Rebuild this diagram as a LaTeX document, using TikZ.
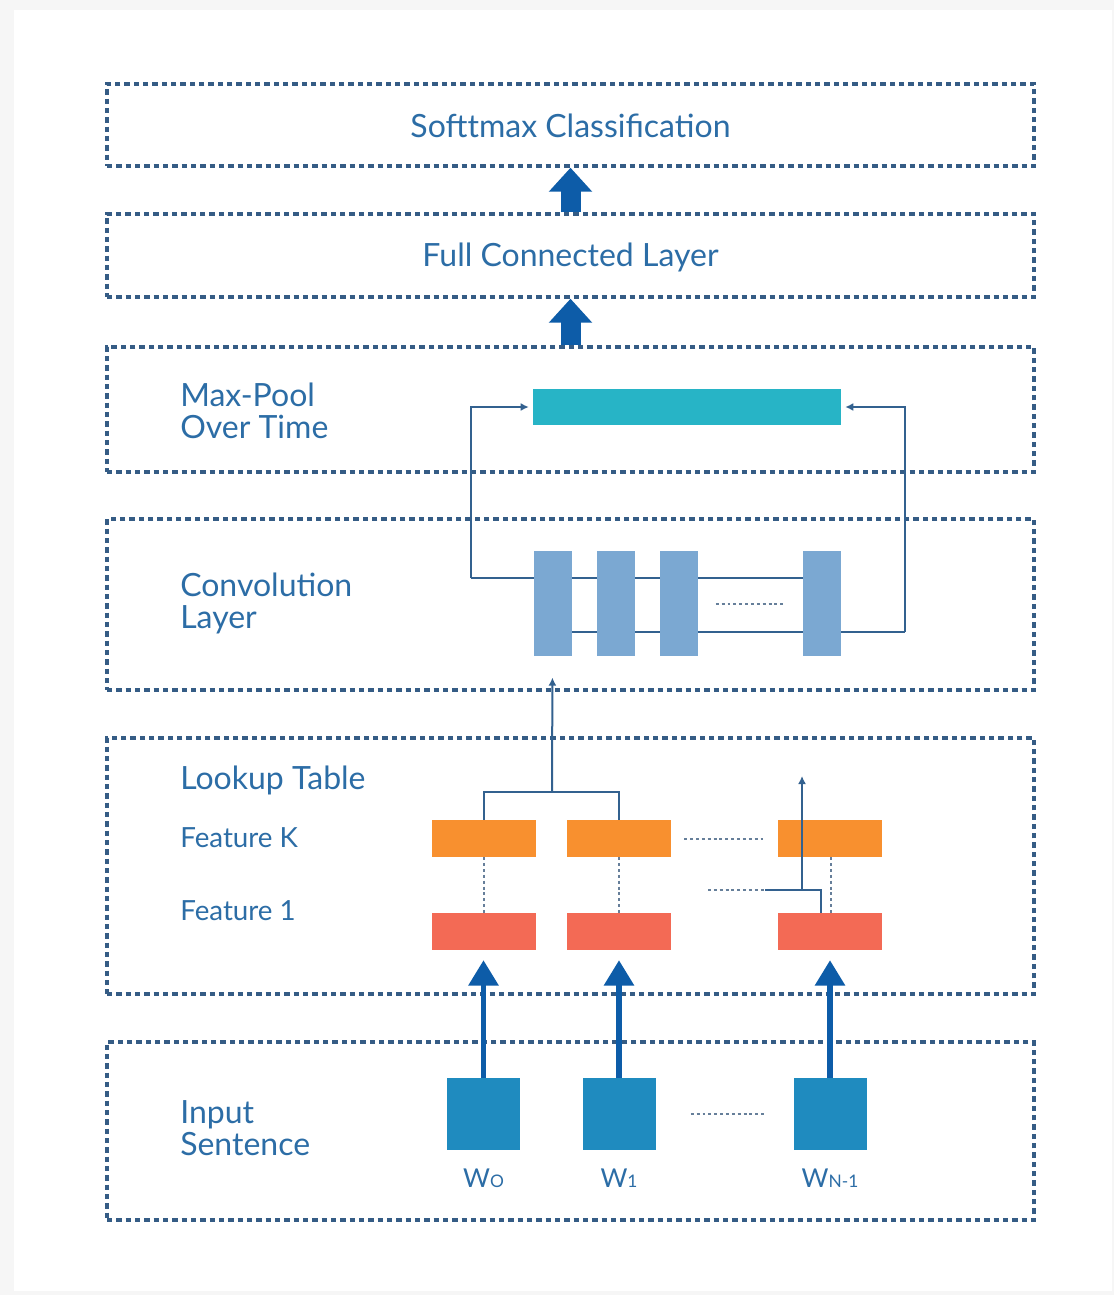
\documentclass[tikz,border=0pt]{standalone}
\usepackage{fontspec}
\setmainfont{Lato}
\usetikzlibrary{arrows.meta,calc}
\pgfdeclarelayer{bottom}
\pgfdeclarelayer{background}
\pgfsetlayers{bottom,background,main}
\definecolor{txtblue}{HTML}{2C6DA6}
\definecolor{dashc}{HTML}{355C85}
\definecolor{conncol}{HTML}{33618F}
\definecolor{arrowblue}{HTML}{0D5CA8}
\definecolor{teal}{HTML}{27B4C6}
\definecolor{convcol}{HTML}{7BA8D2}
\definecolor{orangec}{HTML}{F8902F}
\definecolor{redc}{HTML}{F36A55}
\definecolor{wcol}{HTML}{1F8BBF}
\definecolor{dotc}{HTML}{667F9A}
\begin{document}
\begin{tikzpicture}[x=0.75pt,y=-0.75pt,
  layer/.style={draw=dashc,line width=2.6pt,dash pattern=on 4pt off 3pt,
    minimum width=927*0.75pt,inner sep=0pt},
  lbl/.style={text=txtblue,font=\fontsize{24}{24}\selectfont,align=left,anchor=west,inner sep=0pt},
  flbl/.style={text=txtblue,font=\fontsize{20.8}{24}\selectfont,anchor=west,inner sep=0pt},
  title/.style={text=txtblue,font=\fontsize{24}{24}\selectfont,inner sep=0pt},
  blk/.style={inner sep=0pt,draw=none},
  conn/.style={draw=conncol,line width=1.5pt},
  thinarrow/.style={conn,-{Latex[length=6pt,width=6pt]}},
  dotline/.style={draw=dotc,line width=1.5pt,dash pattern=on 2.2pt off 2.2pt},
  bigarrow/.style={draw=arrowblue,line width=15pt,-{Triangle[width=31.5pt,length=18pt]}},
  warrow/.style={draw=arrowblue,line width=3.8pt,-{Triangle[width=22pt,length=19pt]},shorten >=7.5pt},
  wlab/.style={text=txtblue,font=\fontsize{19.5}{20}\selectfont,inner sep=0pt}
]
\useasboundingbox (0,0) rectangle (1114,1295);
\begin{pgfonlayer}{bottom}
\fill[gray!7] (0,0) rectangle (1114,1295);
\fill[white] (14,10) rectangle (1112,1291);
\end{pgfonlayer}

% layers
\node[layer,minimum height=82*0.75pt] (soft) at (570.5,125) {};
\node[layer,minimum height=83*0.75pt] (full) at (570.5,255.5) {};
\node[layer,minimum height=125*0.75pt] (poolL) at (570.5,409.5) {};
\node[layer,minimum height=171*0.75pt] (convL) at (570.5,604.5) {};
\node[layer,minimum height=256*0.75pt] (lookL) at (570.5,866) {};
\node[layer,minimum height=178*0.75pt] (inL) at (570.5,1131) {};

% titles and labels
\node[title] (tsoft) at (570.5,126) {Softtmax Classification};
\node[title] (tfull) at (570.5,257) {Full Connected Layer};
\node[lbl] (tpool) at (180,411) {Max-Pool\\Over Time};
\node[lbl] (tconv) at (180,603) {Convolution\\Layer};
\node[lbl] (tlook) at (180,780) {Lookup Table};
\node[flbl] (tfk) at (180,838) {Feature K};
\node[flbl] (tf1) at (180,911) {Feature 1};
\node[lbl] (tin) at (180,1128) {Input\\Sentence};

% big arrows
\draw[bigarrow] (full.north) -- (soft.south);
\draw[bigarrow] (poolL.north) -- (full.south);

% max-pool bar
\node[blk,fill=teal,minimum width=308*0.75pt,minimum height=36*0.75pt] (pool) at (687,407) {};

% conv bars
\foreach \n/\x in {c1/552.5,c2/616,c3/678.5,c4/822}
  \node[blk,fill=convcol,minimum width=38*0.75pt,minimum height=105*0.75pt] (\n) at (\x,603.5) {};

\coordinate (tl) at (471,578);
\coordinate (br) at (905,632);
\begin{pgfonlayer}{background}
\draw[conn] (c4.west|-tl) -- (tl);
\draw[conn] (c1.east|-br) -- (br);
\end{pgfonlayer}
\draw[thinarrow,shorten >=3pt] (tl) |- (pool.west);
\draw[thinarrow,shorten >=3pt] (br) |- (pool.east);
\draw[dotline] ($(c3.east)+(18,0)$) -- ($(c4.west)+(-18,0)$);

% lookup boxes
\foreach \n/\x in {1/484,2/619,3/830}{
  \node[blk,fill=orangec,minimum width=104*0.75pt,minimum height=37*0.75pt] (o\n) at (\x,838.5) {};
  \node[blk,fill=redc,minimum width=104*0.75pt,minimum height=37*0.75pt] (r\n) at (\x,931.5) {};
}
\draw[dotline] (o1.south) -- (r1.north);
\draw[dotline] (o2.south) -- (r2.north);
\draw[dotline] ($(o3.south)+(1,0)$) -- ($(r3.north)+(1,0)$);
\draw[dotline] ($(o2.east)+(13,0)$) -- ($(o3.west)+(-13,0)$);

\coordinate (j) at (552,792);
\draw[conn] (o1.north) |- (j) -| (o2.north);
\draw[thinarrow,shorten >=16pt] (j) -- (c1.south);

\coordinate (kd) at (708,890);
\coordinate (k) at (765,890);
\coordinate (ka) at (802,890);
\coordinate (kt) at (802,776);
\draw[dotline] (kd) -- (k);
\draw[conn] (k) -| ($(r3.north)+(-9,0)$);
\draw[thinarrow] (ka) -- (kt);

% input words
\foreach \n/\x in {1/483.5,2/619,3/830}
  \node[blk,fill=wcol,minimum width=73*0.75pt,minimum height=72*0.75pt] (w\n) at (\x,1114) {};
\draw[dotline] ($(w2.east)+(35,0)$) -- ($(w3.west)+(-29,0)$);

\draw[warrow] (w1.north) -- (w1.north|-r1.south);
\draw[warrow] (w2.north) -- (r2.south);
\draw[warrow] (w3.north) -- (r3.south);

\node[wlab] (lw1) at (483.5,1178) {W{\fontsize{13}{14}\selectfont O}};
\node[wlab] (lw2) at (619,1178) {W{\fontsize{13}{14}\selectfont 1}};
\node[wlab] (lw3) at (830,1178) {W{\fontsize{13}{14}\selectfont N-1}};
\end{tikzpicture}
\end{document}
